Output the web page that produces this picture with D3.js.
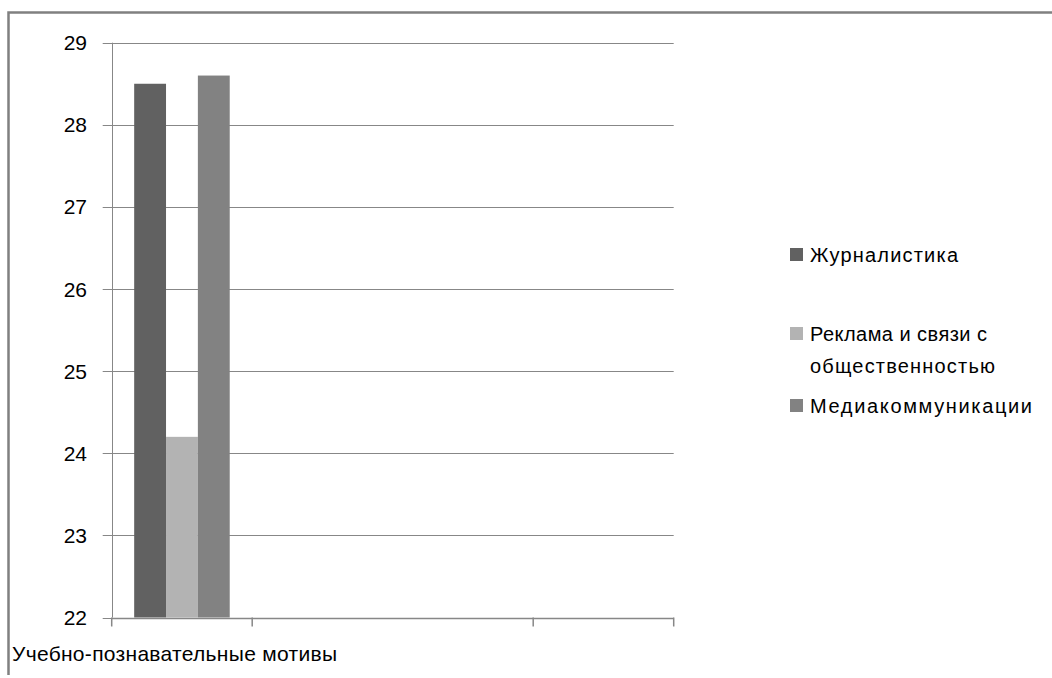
<!DOCTYPE html>
<html>
<head>
<meta charset="utf-8">
<script src="https://cdn.jsdelivr.net/npm/d3@7"></script>
<style>
  html, body { margin: 0; padding: 0; background: #fff; }
  svg { display: block; }
  text { font-family: "Liberation Sans", "DejaVu Sans", sans-serif; fill: #000; }
</style>
</head>
<body>
<svg id="chart" width="1052" height="678"></svg>
<script>
// Category slots on the horizontal axis (only the first one is labelled / filled)
const categories = ["Учебно-познавательные мотивы", "", "", ""];
// Series names and their values per category
const seriesNames = ["Журналистика", "Реклама и связи с общественностью", "Медиакоммуникации"];
const journalism = [28.5];
const advertising = [24.2];
const mediaComm = [28.6];
const seriesValues = [journalism, advertising, mediaComm];
// Y axis tick values
const yTicks = [22, 23, 24, 25, 26, 27, 28, 29];
// Legend label lines
const legendLines = [["Журналистика"], ["Реклама и связи с", "общественностью"], ["Медиакоммуникации"]];

const colors = ["#616161", "#b3b3b3", "#828282"];
const gridColor = "#878787";
// rendered widths of the wrapped legend lines
const legendWidths = [[148], [177, 185], [222]];

const svg = d3.select("#chart");

// outer frame (left and top edges)
svg.append("path")
  .attr("d", "M8.5,675 V12.5 H1052")
  .attr("fill", "none")
  .attr("stroke", "#808080")
  .attr("stroke-width", 2.5);

const plot = { left: 111.7, right: 673.7, top: 42.7, bottom: 617.5 };

const y = d3.scaleLinear().domain([22, 29]).range([plot.bottom, plot.top]);
const x = d3.scaleBand().domain(d3.range(categories.length)).range([plot.left, plot.right]).padding(0);
const bw = x.bandwidth();
const xs = d3.scaleBand().domain(d3.range(seriesNames.length)).range([0.16 * bw, 0.84 * bw]).padding(0);

// horizontal gridlines with short left ticks
svg.append("g").selectAll("line").data(yTicks).join("line")
  .attr("x1", plot.left - 9).attr("x2", plot.right)
  .attr("y1", d => Math.round(y(d)) + 0.5).attr("y2", d => Math.round(y(d)) + 0.5)
  .attr("stroke", gridColor).attr("stroke-width", 1);

// y tick labels
svg.append("g").selectAll("text").data(yTicks).join("text")
  .attr("x", 87).attr("y", d => y(d))
  .attr("dy", "0.36em")
  .attr("text-anchor", "end")
  .attr("font-size", 21)
  .text(d => d);

// bars
seriesValues.forEach((vals, si) => {
  svg.append("g").selectAll("rect").data(vals).join("rect")
    .attr("x", (d, i) => x(i) + xs(si))
    .attr("width", xs.bandwidth())
    .attr("y", d => y(d))
    .attr("height", d => y(22) - y(d))
    .attr("fill", colors[si]);
});

// vertical axis line
svg.append("line")
  .attr("x1", Math.round(plot.left) + 0.5).attr("x2", Math.round(plot.left) + 0.5)
  .attr("y1", plot.top).attr("y2", plot.bottom)
  .attr("stroke", gridColor);

// category axis with ticks at slot boundaries
svg.append("line")
  .attr("x1", plot.left).attr("x2", plot.right)
  .attr("y1", Math.round(plot.bottom) + 0.5).attr("y2", Math.round(plot.bottom) + 0.5)
  .attr("stroke", gridColor).attr("stroke-width", 1.5);
const boundaries = [0, 1, 3, 4];
svg.append("g").selectAll("line").data(boundaries).join("line")
  .attr("x1", d => plot.left + d * bw).attr("x2", d => plot.left + d * bw)
  .attr("y1", plot.bottom).attr("y2", plot.bottom + 9)
  .attr("stroke", gridColor).attr("stroke-width", 1.5);

// category label
svg.append("text")
  .attr("x", 12).attr("y", 661)
  .attr("font-size", 21)
  .attr("textLength", 325)
  .attr("lengthAdjust", "spacing")
  .text(categories[0]);

// legend
const legendY = [248, 327, 399];
const legend = svg.append("g");
legendLines.forEach((lines, i) => {
  legend.append("rect")
    .attr("x", 790).attr("y", legendY[i])
    .attr("width", 13).attr("height", 13)
    .attr("fill", colors[i]);
  lines.forEach((ln, j) => {
    legend.append("text")
      .attr("x", 810).attr("y", legendY[i] + 14 + j * 32)
      .attr("font-size", 20)
      .attr("textLength", legendWidths[i][j])
      .attr("lengthAdjust", "spacing")
      .text(ln);
  });
});
</script>
</body>
</html>
